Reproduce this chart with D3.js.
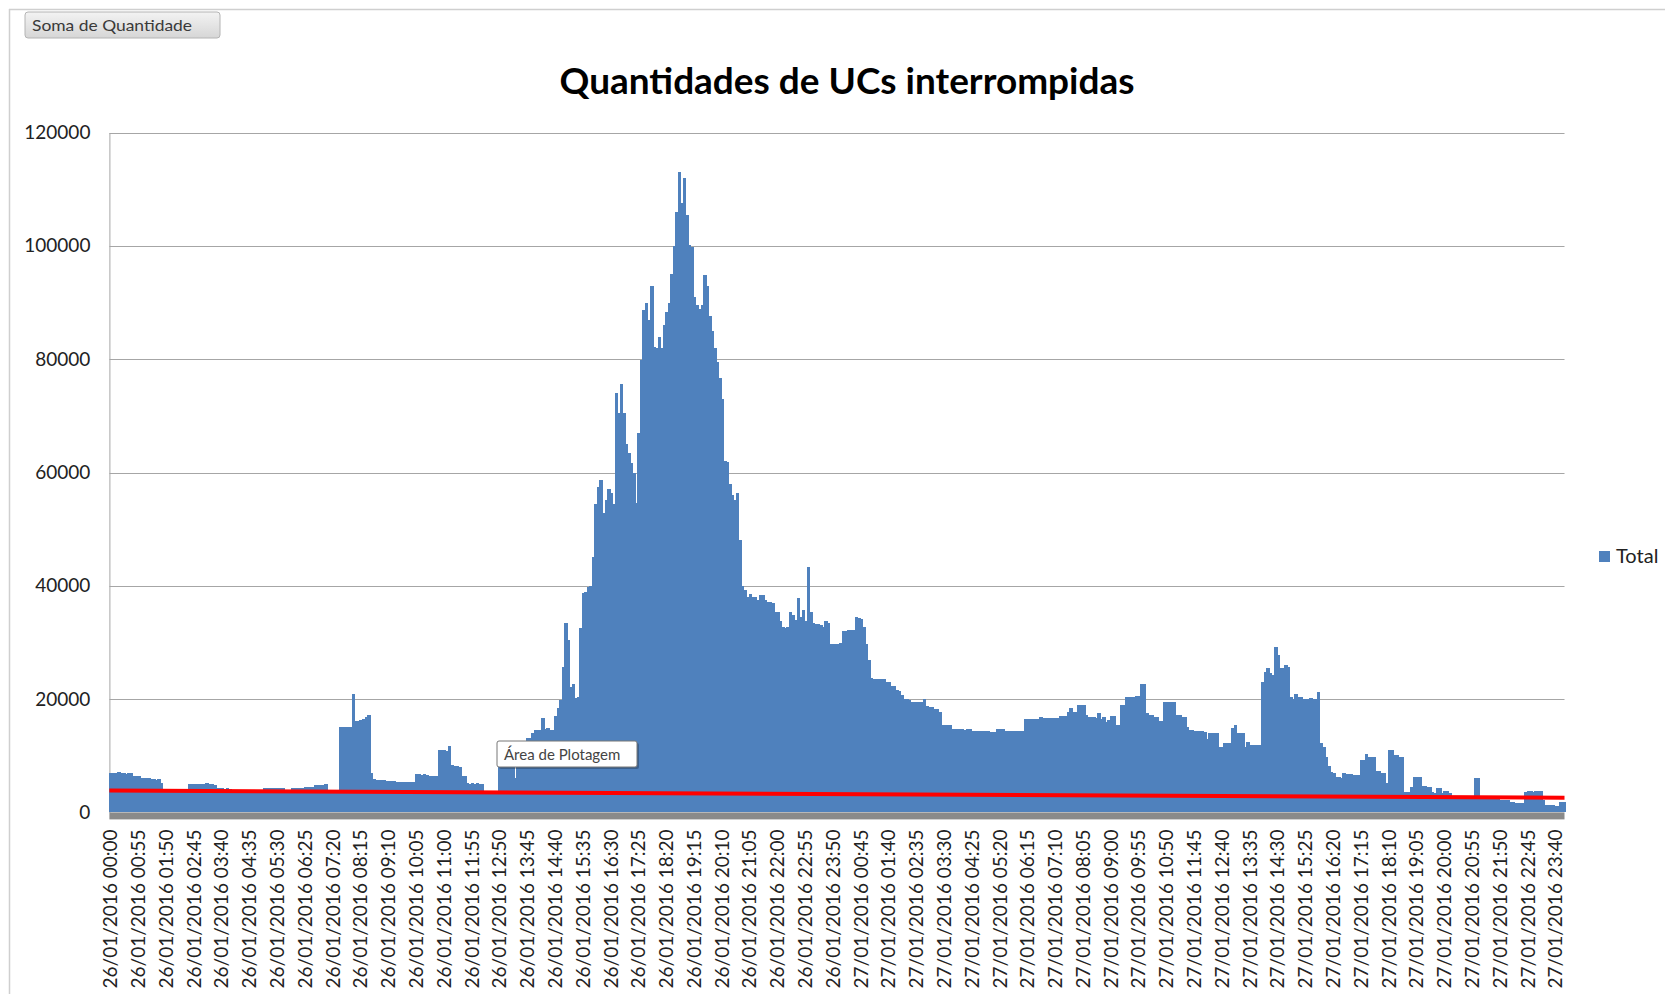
<!DOCTYPE html>
<html>
<head>
<meta charset="utf-8">
<script src="https://cdn.jsdelivr.net/npm/d3@7"></script>
<style>
  body { margin: 0; background: #fff; }
  svg { display: block; font-family: Lato, "Open Sans", sans-serif; }
</style>
</head>
<body>
<svg id="chart" width="1665" height="994"></svg>
<script>
// quantidades por intervalo de 5 minutos, uma linha = uma hora
var quantDia26 = [
  6900,6900,6950,7100,6900,6900,6850,6900,6900,6400,6400,6400,
  6150,6100,6100,6100,5850,5850,5800,5850,5200,4100,4100,4050,
  4050,4000,4050,4000,4050,4000,4050,4950,4950,4980,5000,4950,
  4950,4950,5200,4950,4950,4900,4250,4250,4250,4200,4250,4200,
  3900,3850,3850,3800,3850,3850,3800,3850,3800,3850,3800,3850,
  3850,4250,4250,4300,4250,4250,4250,4250,4250,3900,3900,3900,
  4250,4250,4250,4250,4250,4550,4550,4550,4550,4850,4850,4850,
  4850,5000,3850,3800,3800,3800,3800,15000,15000,15050,15000,15100,
  20900,16200,16200,16300,16400,16900,17200,7000,5850,5800,5750,5800,
  5700,5600,5550,5600,5500,5450,5450,5400,5400,5400,5400,5450,
  5400,6800,6700,6600,6700,6650,6500,6450,6500,6500,11000,11000,
  11000,10900,11700,8300,8250,8200,8000,6500,6450,5150,5100,5150,
  5100,5150,5100,5100,3400,3300,3300,3350,3300,3300,9000,8800,
  9000,8900,9000,9100,6000,10500,11000,12000,12500,13100,13100,14000,
  14500,14600,14500,16600,14800,14900,14600,14600,17000,18500,19800,25700,
  33400,30400,22200,22600,20200,20300,32500,38700,38900,39800,39900,45100,
  54500,57500,58700,52800,55100,57000,56400,54500,74000,70500,75700,70500,
  65100,63400,61600,59900,54600,66900,79900,88700,90000,87000,93000,82200,
  82000,84000,82000,86000,88400,90000,95000,100000,106000,113000,107500,112000,
  105400,100200,99800,91000,89500,88800,89600,94800,93000,87700,85000,82000,
  79500,76700,73000,62000,61900,58000,56000,55100,56300,48000,40000,39300,
  38100,38500,38100,38000,37500,38400,38300,37500,37200,37200,36900,35400,
  35400,33700,32700,32600,32700,35400,34800,34000,37800,34500,35800,33700,
  43400,35400,33500,33300,33200,33000,32800,33800,33400,29800,29800,29800
]

var quantDia27 = [
  29800,29900,32100,32000,32200,32200,32200,34500,34300,34200,32800,29800,
  26900,23700,23600,23500,23550,23500,23500,23100,23000,22300,22300,21600,
  21500,20700,20100,20100,19800,19550,19550,19500,19550,19550,19960,18700,
  18660,18660,18200,18200,17800,15400,15400,15450,15400,14700,14650,14650,
  14660,14650,14600,14650,14650,14430,14400,14450,14430,14400,14450,14400,
  14250,14250,14250,14660,14660,14700,14430,14430,14400,14450,14430,14400,
  14430,14450,16400,16450,16400,16500,16450,16400,16900,16600,16600,16650,
  16600,16600,16600,16600,17000,17000,17000,17800,18400,17800,17800,18900,
  18960,18960,17200,16900,16900,16900,16600,17600,16430,16780,16000,16300,
  17000,17000,15400,15400,18960,18960,20400,20400,20300,20300,20550,20550,
  22660,22660,17500,17200,17200,16800,16800,16200,16200,19550,19400,19400,
  19400,19400,17200,17200,16900,16900,15100,14540,14540,14430,14430,14430,
  14430,14250,12900,13960,13960,13960,13960,11500,11500,12300,12300,12300,
  14840,15430,14070,14070,14070,11600,12490,11900,11900,11900,11900,11900,
  23000,24840,25430,24550,24250,29130,27780,25430,25430,26020,25720,20430,
  19960,20900,20430,20430,19960,19960,19960,20130,19960,19960,21310,12190,
  11600,9840,8190,7190,6900,6310,6310,6020,6900,6780,6780,6780,
  6600,6600,6600,9250,9250,10310,9840,9840,9840,7370,7370,7010,
  7010,5250,11010,11010,10130,10130,9720,9720,3660,3660,3660,4540,
  6310,6190,6310,4660,4600,4540,4540,3660,3370,4250,4250,3480,
  3840,3840,3480,2900,2900,2900,2780,2780,2780,2780,2780,2780,
  6010,6010,2900,2900,2850,2900,2850,2900,2850,2800,2190,2190,
  2190,2190,1900,1900,1720,1720,1720,1720,3660,3780,3780,3660,
  3780,3780,3780,2190,1310,1310,1310,1310,1130,1130,1900,1900
]

var dias = ['26/01/2016', '27/01/2016']

var tickLabels = [
  '26/01/2016 00:00','26/01/2016 00:55','26/01/2016 01:50','26/01/2016 02:45','26/01/2016 03:40',
  '26/01/2016 04:35','26/01/2016 05:30','26/01/2016 06:25','26/01/2016 07:20','26/01/2016 08:15',
  '26/01/2016 09:10','26/01/2016 10:05','26/01/2016 11:00','26/01/2016 11:55','26/01/2016 12:50',
  '26/01/2016 13:45','26/01/2016 14:40','26/01/2016 15:35','26/01/2016 16:30','26/01/2016 17:25',
  '26/01/2016 18:20','26/01/2016 19:15','26/01/2016 20:10','26/01/2016 21:05','26/01/2016 22:00',
  '26/01/2016 22:55','26/01/2016 23:50','27/01/2016 00:45','27/01/2016 01:40','27/01/2016 02:35',
  '27/01/2016 03:30','27/01/2016 04:25','27/01/2016 05:20','27/01/2016 06:15','27/01/2016 07:10',
  '27/01/2016 08:05','27/01/2016 09:00','27/01/2016 09:55','27/01/2016 10:50','27/01/2016 11:45',
  '27/01/2016 12:40','27/01/2016 13:35','27/01/2016 14:30','27/01/2016 15:25','27/01/2016 16:20',
  '27/01/2016 17:15','27/01/2016 18:10','27/01/2016 19:05','27/01/2016 20:00','27/01/2016 20:55',
  '27/01/2016 21:50','27/01/2016 22:45','27/01/2016 23:40'
]

var yTicks = [0, 20000, 40000, 60000, 80000, 100000, 120000]

// linha de tendencia (inicio, fim)
var trendValues = [3850, 2600]


// categorias de 5 em 5 minutos
function pad (n) { return (n < 10 ? '0' : '') + n }
var categories = []
dias.forEach(function (d) {
  for (var m = 0; m < 1440; m += 5) categories.push(d + ' ' + pad(Math.floor(m / 60)) + ':' + pad(m % 60))
})
var values = quantDia26.concat(quantDia27)
var data = categories.map(function (c, i) { return {cat: c, v: values[i]} })

var svg = d3.select('#chart')
var plot = {left: 109.4, right: 1564.5, top: 132.6, bottom: 812.4}

var x = d3.scaleBand().domain(categories).range([plot.left, plot.right]).padding(0)
var y = d3.scaleLinear().domain([0, 120000]).range([plot.bottom, plot.top])

// moldura da area do grafico
svg.append('line').attr('x1', 9).attr('x2', 1665).attr('y1', 9.5).attr('y2', 9.5)
  .attr('stroke', '#cfcfcf').attr('stroke-width', 1.5)
svg.append('line').attr('x1', 9.5).attr('x2', 9.5).attr('y1', 9).attr('y2', 994)
  .attr('stroke', '#cfcfcf').attr('stroke-width', 1.5)

// botao do campo
var defs = svg.append('defs')
var grad = defs.append('linearGradient').attr('id', 'btn').attr('x1', 0).attr('x2', 0).attr('y1', 0).attr('y2', 1)
grad.append('stop').attr('offset', '0%').attr('stop-color', '#f3f3f3')
grad.append('stop').attr('offset', '100%').attr('stop-color', '#d6d6d6')
svg.append('rect').attr('x', 25).attr('y', 12).attr('width', 195).attr('height', 26).attr('rx', 3)
  .attr('fill', 'url(#btn)').attr('stroke', '#b4b4b4')
var btnText = svg.append('text').attr('x', 32).attr('y', 31).attr('font-size', 16).attr('fill', '#3a3a3a')
  .text('Soma de Quantidade')
btnText.attr('textLength', 160).attr('lengthAdjust', 'spacingAndGlyphs')

// titulo
var title = svg.append('text').attr('x', 847).attr('y', 94).attr('text-anchor', 'middle')
  .attr('font-weight', 'bold').attr('font-size', 32).attr('fill', '#000')
  .text('Quantidades de UCs interrompidas')
var tw = title.node().getComputedTextLength()
title.attr('font-size', 32 * 575 / tw)

// grade
svg.append('g').selectAll('line').data(yTicks.slice(1)).enter().append('line')
  .attr('x1', plot.left).attr('x2', plot.right)
  .attr('y1', function (d) { return Math.round(y(d)) + 0.5 })
  .attr('y2', function (d) { return Math.round(y(d)) + 0.5 })
  .attr('stroke', '#a6a6a6').attr('stroke-width', 1.2)

// eixo y
var yAxis = svg.append('g').attr('transform', 'translate(' + plot.left + ',0)')
  .call(d3.axisLeft(y).tickValues(yTicks).tickSize(0).tickPadding(19).tickFormat(d3.format('d')))
yAxis.select('.domain').attr('stroke', '#a6a6a6')
yAxis.selectAll('text').attr('font-size', 19).attr('fill', '#222').attr('font-family', 'Lato, sans-serif')

// barras (sem espaco entre elas)
var bw = x.bandwidth()
svg.append('g').attr('shape-rendering', 'crispEdges')
  .selectAll('rect').data(data).enter().append('rect')
  .attr('x', function (d) { return x(d.cat) })
  .attr('width', bw + 1)
  .attr('y', function (d) { return y(d.v) })
  .attr('height', function (d) { return plot.bottom - y(d.v) })
  .attr('fill', '#4f81bd')

// eixo x
svg.append('rect').attr('x', plot.left).attr('y', plot.bottom).attr('width', plot.right - plot.left).attr('height', 7)
  .attr('fill', '#8a8a8a')
var xAxis = svg.append('g').attr('transform', 'translate(0,' + plot.bottom + ')')
  .call(d3.axisBottom(x).tickValues(tickLabels).tickSize(0))
xAxis.select('.domain').remove()
xAxis.selectAll('text')
  .attr('transform', 'rotate(-90)')
  .attr('text-anchor', 'end')
  .attr('x', -17).attr('y', 0).attr('dy', '0.35em')
  .attr('font-size', 19).attr('fill', '#222').attr('font-family', 'Lato, sans-serif')

// linha de tendencia
var trendPts = [
  {px: x(categories[0]), v: trendValues[0]},
  {px: x(categories[categories.length - 1]) + bw, v: trendValues[1]}
]
svg.append('path').datum(trendPts)
  .attr('d', d3.line().x(function (d) { return d.px }).y(function (d) { return y(d.v) }))
  .attr('fill', 'none').attr('stroke', '#ff0000').attr('stroke-width', 4)

// dica "Area de Plotagem"
svg.append('rect').attr('x', 499).attr('y', 743).attr('width', 140).attr('height', 26).attr('rx', 2)
  .attr('fill', '#000').attr('opacity', 0.25)
svg.append('rect').attr('x', 497).attr('y', 741).attr('width', 140).attr('height', 26).attr('rx', 2)
  .attr('fill', '#fff').attr('stroke', '#767676')
svg.append('text').attr('x', 504).attr('y', 760).attr('font-size', 15).attr('fill', '#444')
  .text('Área de Plotagem')

// legenda
svg.append('rect').attr('x', 1599).attr('y', 551).attr('width', 11).attr('height', 11).attr('fill', '#4f81bd')
svg.append('text').attr('x', 1616).attr('y', 563).attr('font-size', 20).attr('fill', '#222').text('Total')
</script>
</body>
</html>
